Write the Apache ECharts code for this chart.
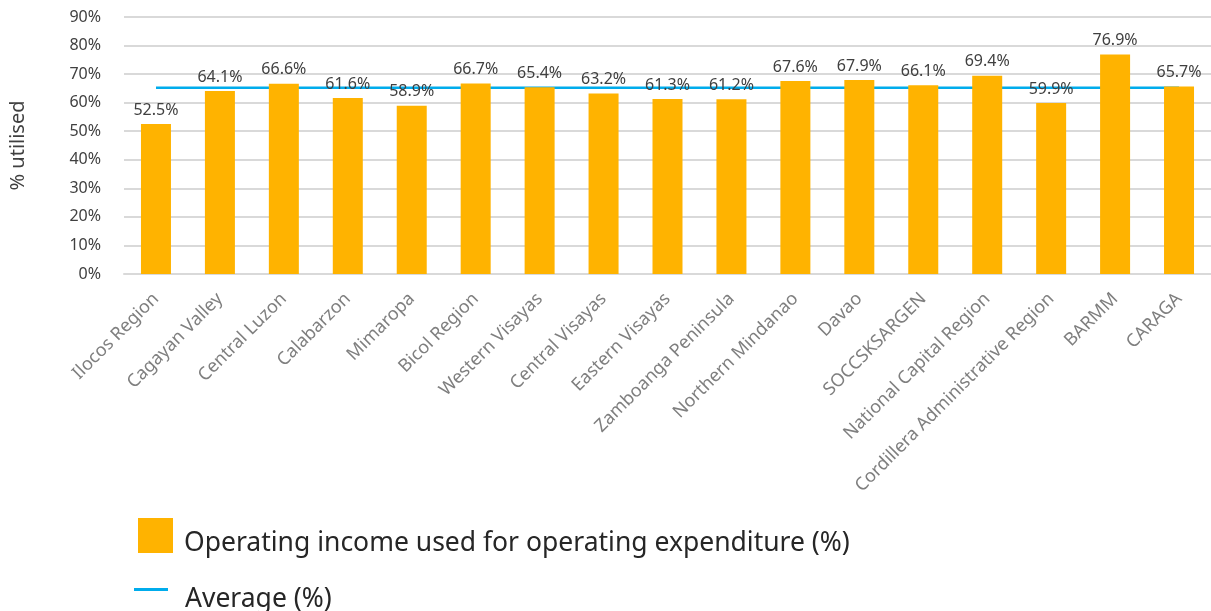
<!DOCTYPE html>
<html>
<head>
<meta charset="utf-8">
<script src="https://cdn.jsdelivr.net/npm/echarts@6/dist/echarts.min.js"></script>
<style>
  html, body { margin: 0; padding: 0; background: #fff; }
  #chart { width: 1211px; height: 611px; }
</style>
</head>
<body>
<div id="chart"></div>
<script>
// Regions of the Philippines
const regions = [
  'Ilocos Region', 'Cagayan Valley', 'Central Luzon', 'Calabarzon', 'Mimaropa',
  'Bicol Region', 'Western Visayas', 'Central Visayas', 'Eastern Visayas',
  'Zamboanga Peninsula', 'Northern Mindanao', 'Davao', 'SOCCSKSARGEN',
  'National Capital Region', 'Cordillera Administrative Region', 'BARMM', 'CARAGA'
];

// Operating income used for operating expenditure (%)
const operatingShare = [
  52.5, 64.1, 66.6, 61.6, 58.9, 66.7, 65.4, 63.2, 61.3,
  61.2, 67.6, 67.9, 66.1, 69.4, 59.9, 76.9, 65.7
];

// National average (%)
const averageValue = 65.2;

const yTicks = { min: 0, max: 90, interval: 10 };

const barName = 'Operating income used for operating expenditure (%)';
const lineName = 'Average (%)';

const font = '"Noto Sans", "Open Sans", sans-serif';

const chart = echarts.init(document.getElementById('chart'), null, { renderer: 'canvas' });

chart.setOption({
  animation: false,
  textStyle: { fontFamily: font },
  grid: { left: 122, top: 17, width: 1097, height: 257, containLabel: false },
  legend: [
    {
      data: [{ name: barName, icon: 'rect' }],
      orient: 'vertical',
      left: 138,
      top: 518,
      padding: 0,
      itemWidth: 35,
      itemHeight: 35,
      selectedMode: false,
      formatter: '{t|{name}}',
      textStyle: {
        rich: {
          t: { fontSize: 26.5, color: '#262626', fontFamily: font, padding: [16, 0, 0, 6] }
        }
      }
    },
    {
      data: [{ name: lineName, icon: 'rect' }],
      orient: 'vertical',
      left: 134,
      top: 586,
      padding: 0,
      itemWidth: 34,
      itemHeight: 3,
      selectedMode: false,
      formatter: '{t|{name}}',
      textStyle: {
        rich: {
          t: { fontSize: 26.5, color: '#262626', fontFamily: font, padding: [20, 0, 0, 12] }
        }
      }
    }
  ],
  xAxis: {
    type: 'category',
    data: regions,
    boundaryGap: true,
    axisTick: { show: false },
    axisLine: { lineStyle: { color: '#d9d9d9', width: 2 } },
    axisLabel: {
      rotate: 45,
      interval: 0,
      margin: 22,
      fontSize: 18,
      color: '#7f7f7f',
      fontFamily: font
    }
  },
  yAxis: {
    type: 'value',
    min: yTicks.min,
    max: yTicks.max,
    interval: yTicks.interval,
    name: '% utilised',
    nameLocation: 'middle',
    nameRotate: 90,
    nameGap: 96,
    nameTextStyle: { fontSize: 20, color: '#404040', fontFamily: font },
    axisLine: { show: false },
    axisTick: { show: false },
    axisLabel: {
      formatter: '{value}%',
      fontSize: 16,
      color: '#404040',
      margin: 23,
      fontFamily: font
    },
    splitLine: { lineStyle: { color: '#d9d9d9', width: 2 } }
  },
  series: [
    {
      name: lineName,
      type: 'line',
      data: regions.map(() => averageValue),
      symbol: 'none',
      z: 1,
      lineStyle: { color: '#00acec', width: 2.5 },
      itemStyle: { color: '#00acec' }
    },
    {
      name: barName,
      type: 'bar',
      data: operatingShare,
      barWidth: 30,
      z: 3,
      itemStyle: { color: '#ffb300' },
      label: {
        show: true,
        position: 'top',
        distance: 6,
        formatter: p => p.value.toFixed(1) + '%',
        fontSize: 16,
        color: '#404040',
        fontFamily: font
      }
    }
  ]
});
</script>
</body>
</html>
